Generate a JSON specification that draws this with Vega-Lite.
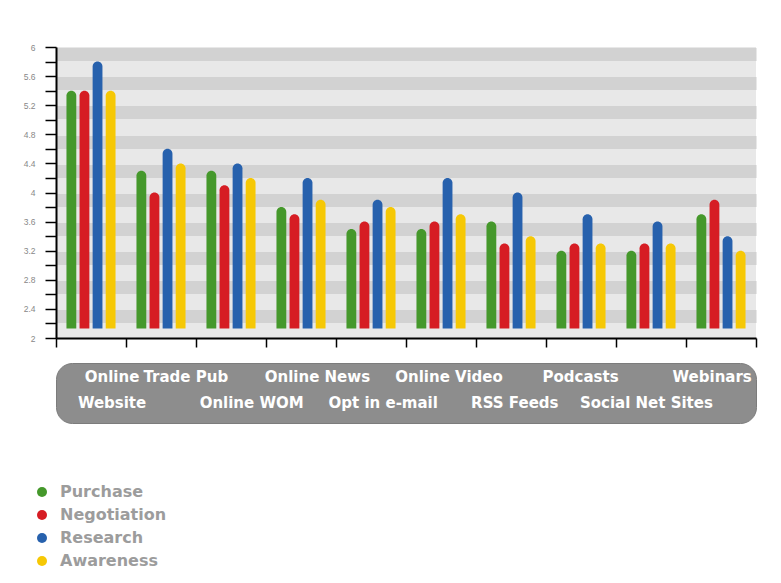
{
  "$schema": "https://vega.github.io/schema/vega-lite/v6.json",
  "background": "white",
  "padding": {"left": 23, "top": 43, "right": 10, "bottom": 5},
  "config": {"font": "Liberation Sans", "view": {"stroke": null}, "concat": {"spacing": 14}},
  "resolve": {"scale": {"x": "independent", "y": "independent"}},
  "vconcat": [
    {
      "width": 700,
      "height": 291,
      "view": {"fill": "#e8e8e8", "stroke": null},
      "data": {"values": [
        {"channel": "Online Website", "stage": "Purchase", "value": 5.4},
        {"channel": "Online Website", "stage": "Negotiation", "value": 5.4},
        {"channel": "Online Website", "stage": "Research", "value": 5.8},
        {"channel": "Online Website", "stage": "Awareness", "value": 5.4},
        {"channel": "Trade Pub", "stage": "Purchase", "value": 4.3},
        {"channel": "Trade Pub", "stage": "Negotiation", "value": 4.0},
        {"channel": "Trade Pub", "stage": "Research", "value": 4.6},
        {"channel": "Trade Pub", "stage": "Awareness", "value": 4.4},
        {"channel": "Online WOM", "stage": "Purchase", "value": 4.3},
        {"channel": "Online WOM", "stage": "Negotiation", "value": 4.1},
        {"channel": "Online WOM", "stage": "Research", "value": 4.4},
        {"channel": "Online WOM", "stage": "Awareness", "value": 4.2},
        {"channel": "Online News", "stage": "Purchase", "value": 3.8},
        {"channel": "Online News", "stage": "Negotiation", "value": 3.7},
        {"channel": "Online News", "stage": "Research", "value": 4.2},
        {"channel": "Online News", "stage": "Awareness", "value": 3.9},
        {"channel": "Opt in e-mail", "stage": "Purchase", "value": 3.5},
        {"channel": "Opt in e-mail", "stage": "Negotiation", "value": 3.6},
        {"channel": "Opt in e-mail", "stage": "Research", "value": 3.9},
        {"channel": "Opt in e-mail", "stage": "Awareness", "value": 3.8},
        {"channel": "Online Video", "stage": "Purchase", "value": 3.5},
        {"channel": "Online Video", "stage": "Negotiation", "value": 3.6},
        {"channel": "Online Video", "stage": "Research", "value": 4.2},
        {"channel": "Online Video", "stage": "Awareness", "value": 3.7},
        {"channel": "RSS Feeds", "stage": "Purchase", "value": 3.6},
        {"channel": "RSS Feeds", "stage": "Negotiation", "value": 3.3},
        {"channel": "RSS Feeds", "stage": "Research", "value": 4.0},
        {"channel": "RSS Feeds", "stage": "Awareness", "value": 3.4},
        {"channel": "Podcasts", "stage": "Purchase", "value": 3.2},
        {"channel": "Podcasts", "stage": "Negotiation", "value": 3.3},
        {"channel": "Podcasts", "stage": "Research", "value": 3.7},
        {"channel": "Podcasts", "stage": "Awareness", "value": 3.3},
        {"channel": "Social Net Sites", "stage": "Purchase", "value": 3.2},
        {"channel": "Social Net Sites", "stage": "Negotiation", "value": 3.3},
        {"channel": "Social Net Sites", "stage": "Research", "value": 3.6},
        {"channel": "Social Net Sites", "stage": "Awareness", "value": 3.3},
        {"channel": "Webinars", "stage": "Purchase", "value": 3.7},
        {"channel": "Webinars", "stage": "Negotiation", "value": 3.9},
        {"channel": "Webinars", "stage": "Research", "value": 3.4},
        {"channel": "Webinars", "stage": "Awareness", "value": 3.2}
      ]},
      "layer": [
        {
          "mark": {"type": "rule", "opacity": 0},
          "encoding": {
            "y": {"datum": 2, "type": "quantitative",
              "scale": {"domain": [2, 6], "nice": false, "zero": false},
              "axis": {"orient": "right", "grid": true, "values": [5.9, 5.5, 5.1, 4.7, 4.3, 3.9, 3.5, 3.1, 2.7, 2.3],
                "gridColor": "#d2d2d2", "gridWidth": 13, "labels": false, "ticks": false, "domain": false, "title": null, "zindex": 0}}
          }
        },
        {
          "mark": {"type": "bar", "cornerRadiusTopLeft": 5, "cornerRadiusTopRight": 5},
          "encoding": {
            "x": {"field": "channel", "type": "nominal", "sort": null,
              "scale": {"type": "band", "domain": ["Online Website", "Trade Pub", "Online WOM", "Online News", "Opt in e-mail", "Online Video", "RSS Feeds", "Podcasts", "Social Net Sites", "Webinars"], "paddingInner": 0, "paddingOuter": 0},
              "axis": {"labels": false, "title": null, "tickBand": "extent", "tickSize": 9, "tickColor": "black", "tickWidth": 1.5, "domainColor": "black", "domainWidth": 2, "grid": false, "zindex": 1}},
            "xOffset": {"field": "stage", "type": "nominal",
              "scale": {"domain": ["Purchase", "Negotiation", "Research", "Awareness"], "paddingInner": 0.25, "paddingOuter": 0.8}},
            "y": {"field": "value", "type": "quantitative",
              "scale": {"domain": [2, 6], "nice": false, "zero": false},
              "axis": {"grid": false, "values": [2, 2.2, 2.4, 2.6, 2.8, 3, 3.2, 3.4, 3.6, 3.8, 4, 4.2, 4.4, 4.6, 4.8, 5, 5.2, 5.4, 5.6, 5.8, 6],
                "labelExpr": "round(datum.value*10)%4==0 ? format(datum.value,'~g') : ''",
                "tickSize": 11, "tickColor": "black", "tickWidth": 1.5, "domainColor": "black", "domainWidth": 2,
                "labelColor": "#888888", "labelFontSize": 8.5, "labelPadding": 10, "title": null, "zindex": 1}},
            "y2": {"datum": 2.13},
            "color": {"field": "stage", "type": "nominal",
              "scale": {"domain": ["Purchase", "Negotiation", "Research", "Awareness"], "range": ["#45982b", "#d61d24", "#2761ad", "#f6c805"]},
              "legend": {"orient": "none", "legendX": -22, "legendY": 437, "title": null, "symbolType": "circle", "symbolSize": 100,
                "labelFont": "DejaVu Sans", "labelFontSize": 16, "labelColor": "#9c9c9c", "labelFontWeight": "bold", "rowPadding": 7, "padding": 0, "labelOffset": 10}}
          }
        }
      ],
      "resolve": {"axis": {"y": "independent"}}
    },
    {
      "width": 700,
      "height": 60,
      "view": {"fill": "#8d8d8d", "cornerRadius": 16, "stroke": "#7c7c7c"},
      "data": {"values": [
        {"label": "Online", "channel": "Online Website", "line": "1"},
        {"label": "Website", "channel": "Online Website", "line": "2"},
        {"label": "Trade Pub", "channel": "Trade Pub", "line": "1"},
        {"label": "Online WOM", "channel": "Online WOM", "line": "2"},
        {"label": "Online News", "channel": "Online News", "line": "1"},
        {"label": "Opt in e-mail", "channel": "Opt in e-mail", "line": "2"},
        {"label": "Online Video", "channel": "Online Video", "line": "1"},
        {"label": "RSS Feeds", "channel": "RSS Feeds", "line": "2"},
        {"label": "Podcasts", "channel": "Podcasts", "line": "1"},
        {"label": "Social Net Sites", "channel": "Social Net Sites", "line": "2"},
        {"label": "Webinars", "channel": "Webinars", "line": "1"}
      ]},
      "encoding": {
        "x": {"field": "channel", "type": "nominal", "sort": null,
          "scale": {"type": "band", "domain": ["Online Website", "Trade Pub", "Online WOM", "Online News", "Opt in e-mail", "Online Video", "RSS Feeds", "Podcasts", "Social Net Sites", "Webinars"], "paddingInner": 0, "paddingOuter": 0.32, "align": 0.74},
          "axis": null},
        "y": {"field": "line", "type": "ordinal", "scale": {"type": "point", "domain": ["1", "2"], "padding": 0.65}, "axis": null},
        "text": {"field": "label"}
      },
      "layer": [
        {
          "transform": [{"filter": "datum.channel != 'Online Website'"}],
          "mark": {"type": "text", "color": "white", "font": "DejaVu Sans", "fontSize": 15, "fontWeight": "bold", "dy": -3}
        },
        {
          "transform": [{"filter": "datum.channel == 'Online Website'"}],
          "mark": {"type": "text", "color": "white", "font": "DejaVu Sans", "fontSize": 15, "fontWeight": "bold", "dy": -3, "dx": -8}
        }
      ]
    }
  ]
}
